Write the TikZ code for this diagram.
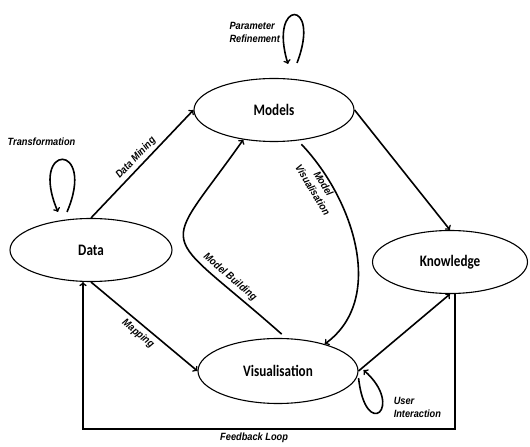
\documentclass[tikz,border=0pt]{standalone}
\usepackage{fontspec}
\usepackage{tikz}
\usetikzlibrary{positioning}
\usetikzlibrary{shapes.geometric}
\newfontfamily\stagefont[FakeStretch=0.82]{Carlito}
\newfontfamily\lblfont[FakeStretch=0.88]{Liberation Sans}

\begin{document}
\begin{tikzpicture}[x=1pt, y=1pt,
		stage/.style={draw, ellipse, line width=1.1pt, minimum width=160pt, minimum height=63pt, font=\stagefont\bfseries\fontsize{16}{18}\selectfont},
		flow/.style={->, line width=1.6pt},
		lbl/.style={font=\lblfont\bfseries\itshape\fontsize{10.5}{12.5}\selectfont, inner sep=1pt}]
				    		\useasboundingbox (0,0) rectangle (530,447);
				    		\node[stage] (models) at (274,337) {Models};
				    		\node[stage, minimum width=162pt] (data) at (91,197) {Data};
				    		\node[stage, minimum height=65pt] (vis) at (278,76) {Visualisation};
				    		\node[stage, minimum width=155pt] (know) at (450,185) {Knowledge};
				    		\draw[flow] (data.north) -- node[lbl, sloped, above=2pt] {Data Mining} (models.west);
				    		\draw[flow] (data.south) -- node[lbl, sloped, below=3pt] {Mapping} (vis.west);
				    		\draw[flow] (models.east) -- (know.north);
				    		\draw[flow] (vis.east) -- (know.south);
				    		\draw[flow, shorten <=5pt] (models.-52) .. controls +(57,-60) and +(61,44) .. (vis.30) node[lbl, pos=0.2, sloped, below, align=center] {Model\\Visualisation};
				    		\draw[flow, shorten <=6pt] (vis.76) .. controls +(-130,115) and +(-84,-119) .. (models.224) node[lbl, pos=0.2, sloped, above=3pt] {Model Building};
				    		\draw[flow] ([shift={(-24pt,6pt)}]data.north) .. controls +(30,70) and +(-30,70) .. ([shift={(-33pt,6pt)}]data.north) node[lbl, pos=0.5, above=12pt, xshift=-21pt] {Transformation};
				    		\draw[flow] ([shift={(23pt,15pt)}]models.north) .. controls +(25,65) and +(-20,65) .. ([shift={(14pt,14pt)}]models.north) node[lbl, pos=0.8, left=2pt, align=left] {Parameter\\Refinement};
				    		\draw[flow] ([yshift=-7pt]vis.east) .. controls +(7,-64) and +(42,-37) .. ([shift={(5pt,1pt)}]vis.east) node[lbl, pos=0.6, right=10pt, align=left] {User\\Interaction};
				    		\draw[flow] ([xshift=5pt]know.south) -- ++(0,-135) -| node[lbl, pos=0.27, below=2pt] {Feedback Loop} ([xshift=-8pt]data.south);
				    	\end{tikzpicture}
\end{document}
